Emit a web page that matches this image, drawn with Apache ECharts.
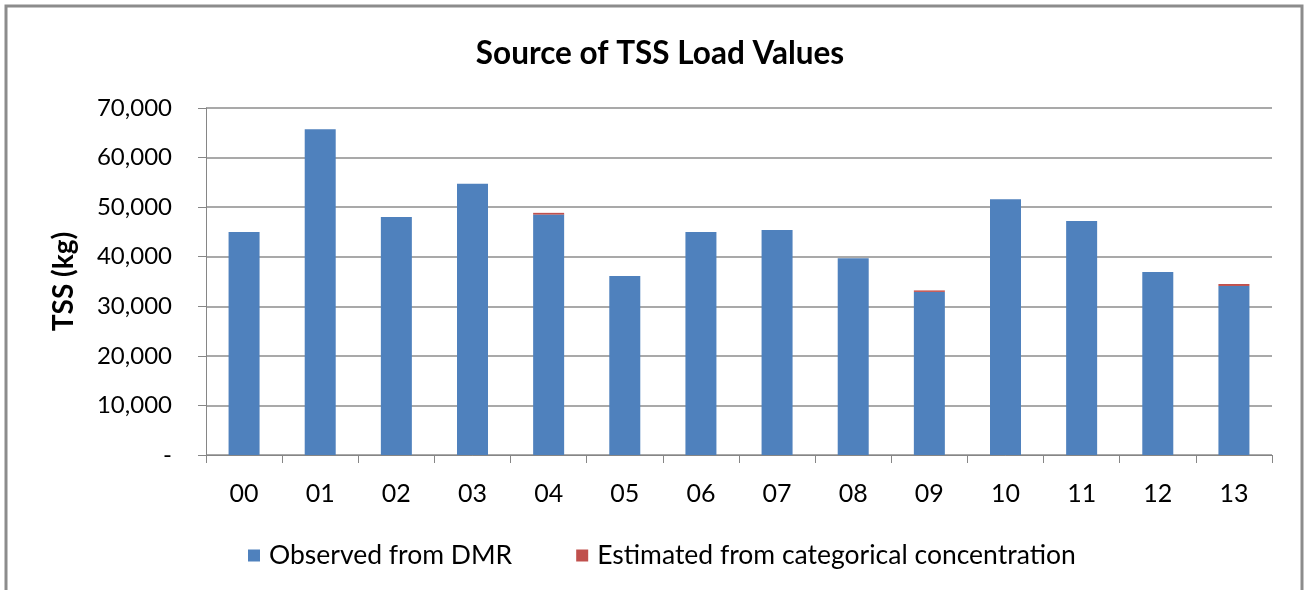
<!DOCTYPE html>
<html>
<head>
<meta charset="utf-8">
<script src="https://cdn.jsdelivr.net/npm/echarts@6/dist/echarts.min.js"></script>
<style>
  html, body { margin: 0; padding: 0; background: #fff; }
  #chart { width: 1304px; height: 590px; }
</style>
</head>
<body>
<div id="chart"></div>
<script>
// Yearly TSS loads (kg), split by the source of the value
const years = ['00', '01', '02', '03', '04', '05', '06', '07', '08', '09', '10', '11', '12', '13'];
const observedDMR = [45000, 65700, 48000, 54700, 48500, 36100, 45000, 45400, 39700, 32900, 51600, 47200, 36900, 34100];
const estimatedCategorical = [0, 0, 0, 0, 350, 0, 0, 0, 0, 300, 0, 0, 0, 400];
const yTicks = [0, 10000, 20000, 30000, 40000, 50000, 60000, 70000];

const font = 'Lato, "Open Sans", sans-serif';
const chart = echarts.init(document.getElementById('chart'), null, { renderer: 'canvas' });

chart.setOption({
  animation: false,
  backgroundColor: '#fff',
  graphic: [{
    type: 'polyline',
    shape: { points: [[6, 600], [6, 6], [1302, 6], [1302, 600]] },
    style: { stroke: '#8c8c8c', lineWidth: 3, fill: null },
    silent: true
  }],
  title: {
    text: 'Source of TSS Load Values',
    left: 655, top: 33, textAlign: 'center',
    textStyle: { fontFamily: font, fontSize: 31.5, fontWeight: 'bold', color: '#000' }
  },
  legend: {
    data: ['Observed from DMR', 'Estimated from categorical concentration'],
    left: 243, top: 537,
    icon: 'rect', itemWidth: 12, itemHeight: 12, itemGap: 64,
    textStyle: { fontFamily: font, fontSize: 26.5, color: '#000', padding: [0, 0, 0, 4] }
  },
  grid: { left: 206, right: 32, top: 108, bottom: 135 },
  xAxis: {
    type: 'category',
    data: years,
    axisLine: { lineStyle: { color: '#868686', width: 1 } },
    axisTick: { show: true, length: 8, alignWithLabel: false, lineStyle: { color: '#868686' } },
    axisLabel: { fontFamily: font, fontSize: 25, color: '#000', margin: 26 }
  },
  yAxis: {
    type: 'value',
    min: yTicks[0], max: yTicks[yTicks.length - 1], interval: yTicks[1] - yTicks[0],
    name: 'TSS (kg)', nameLocation: 'middle', nameGap: 128, nameRotate: 90,
    nameTextStyle: { fontFamily: font, fontSize: 28, fontWeight: 'bold', color: '#000' },
    axisLine: { show: true, lineStyle: { color: '#868686', width: 1 } },
    axisTick: { show: true, length: 8, inside: false, lineStyle: { color: '#868686' } },
    splitLine: { lineStyle: { color: '#8c8c8c', width: 1.5 } },
    axisLabel: {
      fontFamily: font, fontSize: 24, color: '#000', margin: 34,
      formatter: v => v === 0 ? '-' : v.toLocaleString('en-US')
    }
  },
  series: [
    {
      name: 'Observed from DMR', type: 'bar', stack: 'tss',
      data: observedDMR, barWidth: 31,
      itemStyle: { color: '#4F81BD' }
    },
    {
      name: 'Estimated from categorical concentration', type: 'bar', stack: 'tss',
      data: estimatedCategorical, barWidth: 31,
      itemStyle: { color: '#C0504D' }
    }
  ]
});
</script>
</body>
</html>
